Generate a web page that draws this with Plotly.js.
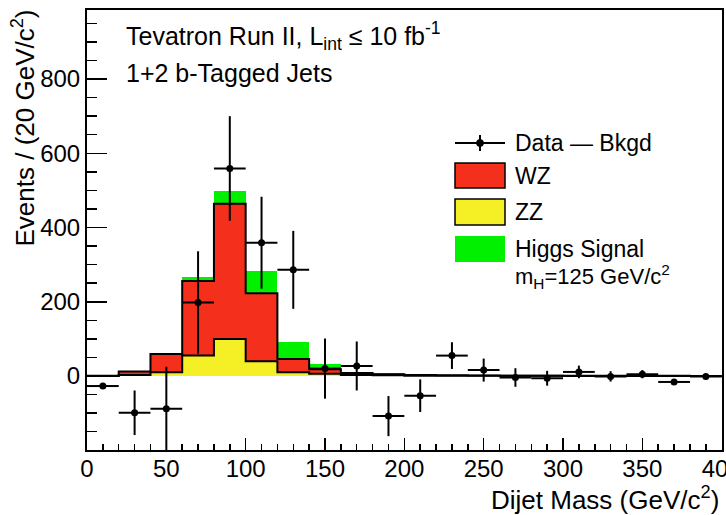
<!DOCTYPE html>
<html>
<head>
<meta charset="utf-8">
<script src="https://cdn.plot.ly/plotly-3.0.1.min.js"></script>
<style>html,body{margin:0;padding:0;background:#fff;}#chart{width:726px;height:515px;}</style>
</head>
<body>
<div id="chart"></div>
<script>
// ---- data ----
const binCenters = [10, 30, 50, 70, 90, 110, 130, 150, 170, 190, 210, 230, 250, 270, 290, 310, 330, 350, 370, 390];
const binWidth = 20;
const zzValues    = [0, 3, 10, 55, 100, 40, 10, 6, 3, 2, 1, 1, 0.5, 0.5, 0.5, 0.3, 0.3, 0.2, 0.2, 0.1];
const wzValues    = [0.5, 9, 49, 201, 364, 183, 36, 12, 5, 3, 2, 1, 1, 0.5, 0.5, 0.5, 0.3, 0.3, 0.2, 0.2];
const higgsValues = [0, 0, 4, 12, 35, 60, 46, 14, 4, 2, 1, 0.5, 0.3, 0.2, 0.2, 0.1, 0.1, 0, 0, 0];
const dataMinusBkgd = [-27, -99, -88, 198, 559, 359, 286, 20, 27, -108, -53, 55, 16, -4, -6, 11, -1, 5, -16, -1];
const dataErrors    = [8, 60, 113, 138, 141, 124, 105, 81, 66, 54, 44, 36, 31, 25, 20, 17, 14, 11, 6, 6];
const xTickVals = [0, 50, 100, 150, 200, 250, 300, 350, 400];
const yTickVals = [0, 200, 400, 600, 800];

// ---- styling / layout helpers ----
const W = 726, H = 515, ML = 87, MR = 4, MT = 10, MB = 65;
const PW = W - ML - MR, PH = H - MT - MB;
const px = x => (x - ML) / PW;
const py = y => (H - MB - y) / PH;
const FONT = 'Liberation Sans, Arial, Helvetica, sans-serif';
const RED = '#f42f1c', YELLOW = '#f5ef26', GREEN = '#00f000';

// bin edges & cumulative stacks for the step outlines
const edges = binCenters.map(c => c - binWidth / 2).concat([binCenters[binCenters.length - 1] + binWidth / 2]);
const cumZZ = zzValues.slice();
const cumWZ = zzValues.map((v, i) => v + wzValues[i]);
const stepY = arr => arr.concat([arr[arr.length - 1]]);

const traces = [
  {type: 'bar', name: 'ZZ', x: binCenters, y: zzValues, width: binWidth,
   marker: {color: YELLOW, line: {width: 0}}, hoverinfo: 'skip'},
  {type: 'bar', name: 'WZ', x: binCenters, y: wzValues, width: binWidth,
   marker: {color: RED, line: {width: 0}}, hoverinfo: 'skip'},
  {type: 'bar', name: 'Higgs Signal', x: binCenters, y: higgsValues, width: binWidth,
   marker: {color: GREEN, line: {width: 0}}, hoverinfo: 'skip'},
  {type: 'scatter', mode: 'lines', x: edges, y: stepY(cumWZ),
   line: {shape: 'hv', color: 'black', width: 2}, hoverinfo: 'skip'},
  {type: 'scatter', mode: 'lines', x: edges, y: stepY(cumZZ),
   line: {shape: 'hv', color: 'black', width: 2}, hoverinfo: 'skip'},
  {type: 'scatter', mode: 'markers', name: 'Data — Bkgd', x: binCenters, y: dataMinusBkgd,
   marker: {color: 'black', size: 7, symbol: 'circle'},
   error_x: {type: 'constant', value: binWidth / 2, thickness: 2, width: 0, color: 'black'},
   error_y: {type: 'data', array: dataErrors, thickness: 2, width: 0, color: 'black'}}
];

const txt = (text, x, y, size, opts) => Object.assign({
  text: text, x: x, y: y, xref: 'paper', yref: 'paper', showarrow: false,
  xanchor: 'left', yanchor: 'middle', font: {family: FONT, size: size, color: 'black'}
}, opts || {});

const layout = {
  width: W, height: H,
  margin: {l: ML, r: MR, t: MT, b: MB, pad: 0},
  paper_bgcolor: 'white', plot_bgcolor: 'white',
  barmode: 'stack', bargap: 0,
  showlegend: false,
  font: {family: FONT, color: 'black'},
  xaxis: {
    range: [0, 400.2], tickvals: xTickVals, ticks: 'inside', ticklen: 12, tickwidth: 1.5, tickcolor: 'black',
    minor: {dtick: 10, ticks: 'inside', ticklen: 6, tickwidth: 1.5, tickcolor: 'black', showgrid: false},
    showgrid: false, zeroline: false, showline: true, mirror: true, linecolor: 'black', linewidth: 2,
    ticklabeloverflow: 'allow', ticklabelstandoff: -4,
    tickfont: {family: FONT, size: 24, color: 'black'}, fixedrange: true
  },
  yaxis: {
    range: [-199.3, 986], tickvals: yTickVals, ticks: 'inside', ticklen: 20, tickwidth: 1.5, tickcolor: 'black',
    minor: {dtick: 50, ticks: 'inside', ticklen: 10, tickwidth: 1.5, tickcolor: 'black', showgrid: false},
    showgrid: false, zeroline: false, showline: true, mirror: true, linecolor: 'black', linewidth: 2,
    tickfont: {family: FONT, size: 24, color: 'black'}, fixedrange: true
  },
  shapes: [
    {type: 'line', xref: 'paper', yref: 'paper', x0: px(455), x1: px(505), y0: py(143), y1: py(143), line: {color: 'black', width: 2}},
    {type: 'line', xref: 'paper', yref: 'paper', x0: px(480), x1: px(480), y0: py(135), y1: py(151), line: {color: 'black', width: 2}},
    {type: 'circle', xref: 'paper', yref: 'paper', x0: px(476.5), x1: px(483.5), y0: py(139.5), y1: py(146.5), fillcolor: 'black', line: {color: 'black', width: 1}},
    {type: 'rect', xref: 'paper', yref: 'paper', x0: px(455), x1: px(505), y0: py(163), y1: py(188), fillcolor: RED, line: {color: 'black', width: 1.5}},
    {type: 'rect', xref: 'paper', yref: 'paper', x0: px(455), x1: px(505), y0: py(199), y1: py(225), fillcolor: YELLOW, line: {color: 'black', width: 1.5}},
    {type: 'rect', xref: 'paper', yref: 'paper', x0: px(455), x1: px(505), y0: py(236), y1: py(262), fillcolor: GREEN, line: {width: 0}}
  ],
  annotations: [
    txt('Tevatron Run II, L<sub>int</sub> ≤ 10 fb<sup>-1</sup>', px(124), py(36), 25),
    txt('1+2 b-Tagged Jets', px(124), py(73), 25),
    txt('Data — Bkgd', px(513), py(143), 23),
    txt('WZ', px(513), py(176), 23),
    txt('ZZ', px(513), py(212), 23),
    txt('Higgs Signal', px(513), py(249), 23),
    txt('m<sub>H</sub>=125 GeV/c<sup>2</sup>', px(513), py(276), 22),
    txt('Dijet Mass (GeV/c<sup>2</sup>)', px(721), py(498), 26, {xanchor: 'right'}),
    txt('Events / (20 GeV/c<sup>2</sup>)', px(24), py(8), 26, {xanchor: 'center', yanchor: 'top', textangle: -90})
  ]
};

Plotly.newPlot('chart', traces, layout, {displayModeBar: false, staticPlot: true});
</script>
</body>
</html>
